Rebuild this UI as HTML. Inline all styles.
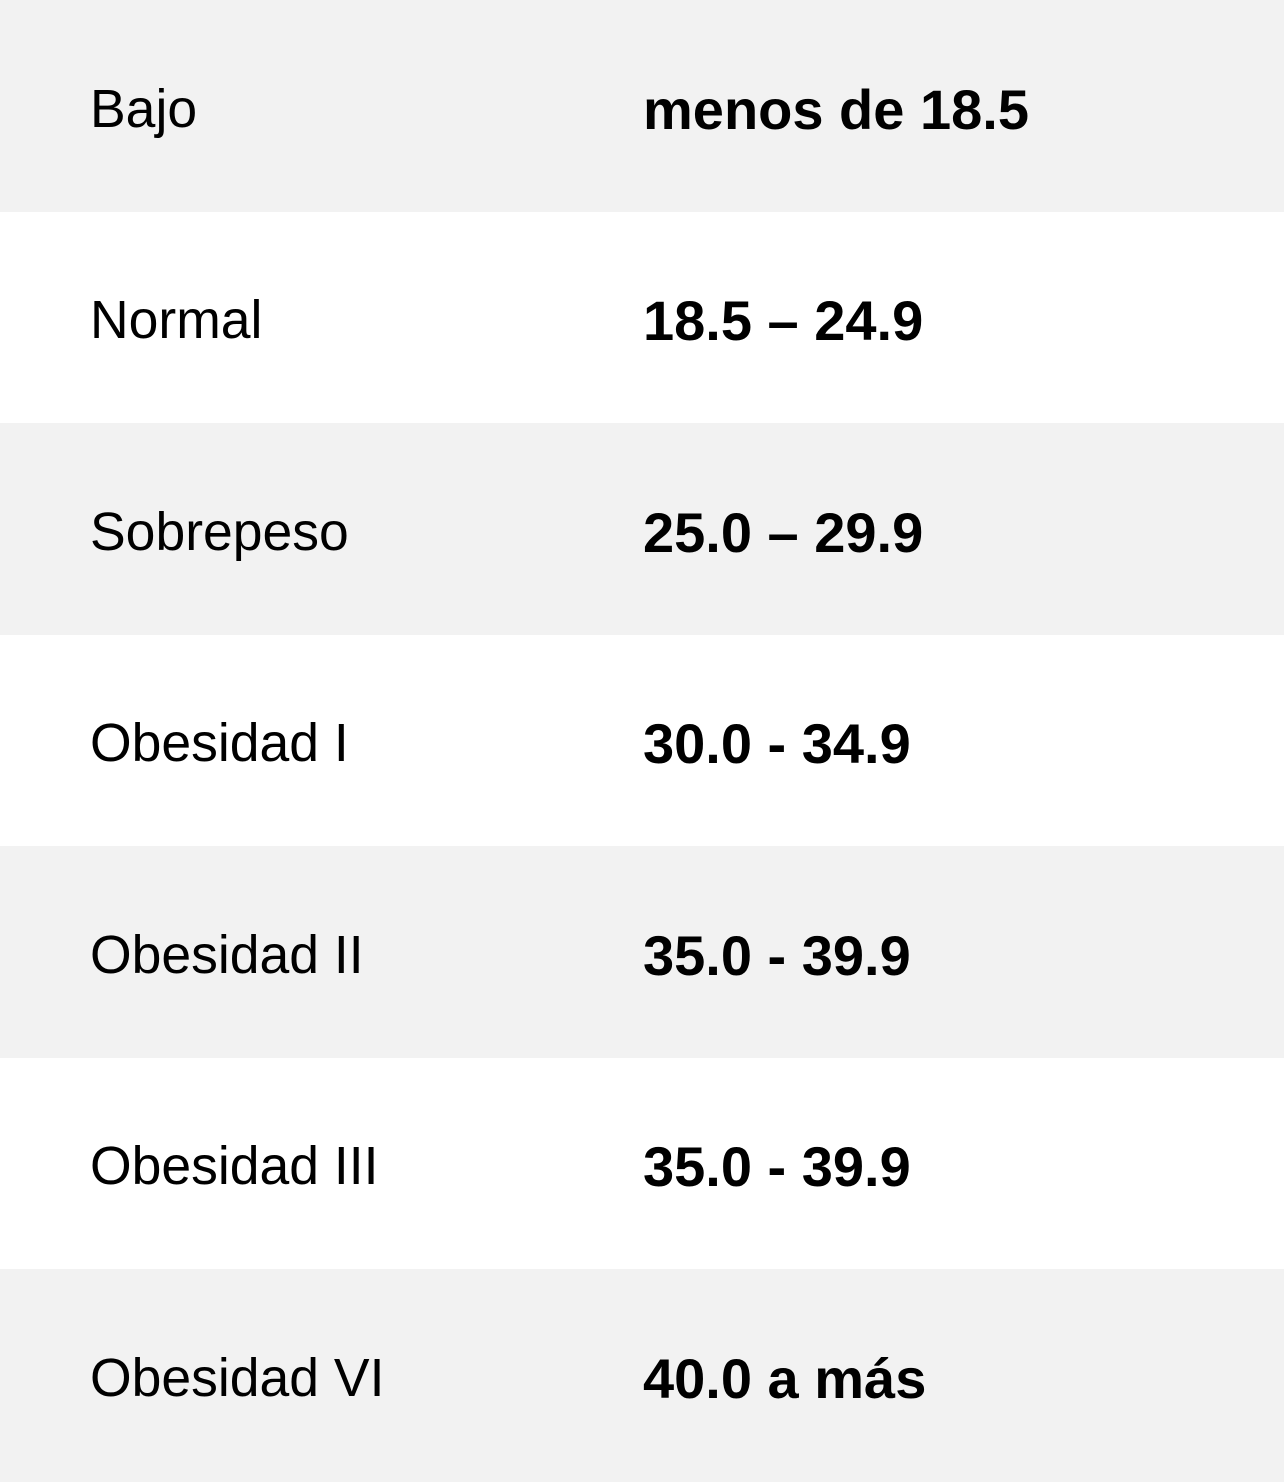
<!DOCTYPE html>
<html><head><meta charset="utf-8"><style>
html,body{margin:0;padding:0;width:1284px;height:1482px;overflow:hidden;background:#fff;}
.row{position:absolute;left:0;width:1284px;display:flex;align-items:center;}
.g{background:#f2f2f2;}
.l{position:absolute;left:90px;margin-top:6px;font-family:"Liberation Sans",sans-serif;font-size:53.5px;color:#000;}
.v{position:absolute;left:643px;margin-top:6px;font-family:"Liberation Sans",sans-serif;font-weight:bold;font-size:56px;color:#000;}
</style></head><body>
<div class="row g" style="top:0;height:212px"><span class="l">Bajo</span><span class="v">menos de 18.5</span></div>
<div class="row" style="top:212px;height:211px"><span class="l">Normal</span><span class="v">18.5 – 24.9</span></div>
<div class="row g" style="top:423px;height:212px"><span class="l">Sobrepeso</span><span class="v">25.0 – 29.9</span></div>
<div class="row" style="top:635px;height:211px"><span class="l">Obesidad I</span><span class="v">30.0 - 34.9</span></div>
<div class="row g" style="top:846px;height:212px"><span class="l">Obesidad II</span><span class="v">35.0 - 39.9</span></div>
<div class="row" style="top:1058px;height:211px"><span class="l">Obesidad III</span><span class="v">35.0 - 39.9</span></div>
<div class="row g" style="top:1269px;height:213px"><span class="l">Obesidad VI</span><span class="v">40.0 a más</span></div>
</body></html>
